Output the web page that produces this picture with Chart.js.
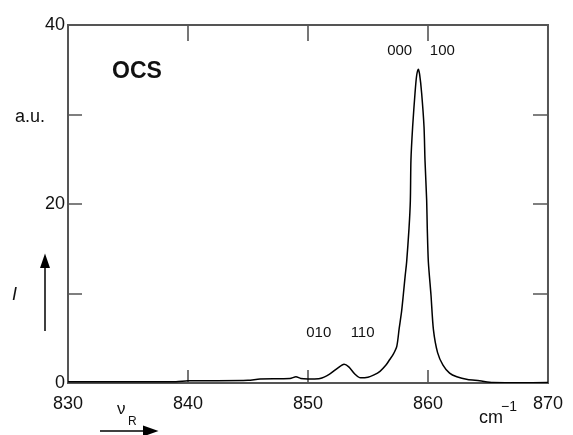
<!DOCTYPE html>
<html>
<head>
<meta charset="utf-8">
<script src="https://cdn.jsdelivr.net/npm/chart.js@4.4.1/dist/chart.umd.min.js"></script>
<style>
  html, body { margin: 0; padding: 0; background: #ffffff; }
  #wrap { width: 573px; height: 435px; position: relative; }
</style>
</head>
<body>
<div id="wrap"><canvas id="c" width="573" height="435"></canvas></div>
<script>
// ---- data ----
const wavenumbers = [
  830, 835, 839, 840, 842, 845, 846, 848.5, 849.0, 849.4, 850, 851, 851.8, 852.5, 853.0, 853.4, 853.9, 854.3,
  855.0, 855.5, 856.0, 856.5, 856.8, 857.1, 857.4, 857.6, 857.8, 857.94, 858.1, 858.22, 858.42, 858.53, 858.58,
  858.72, 858.92, 859.05, 859.19, 859.3, 859.47, 859.67, 859.75, 859.89, 859.94, 860.03, 860.25, 860.45, 860.8,
  861.25, 861.8, 862.4, 863.3, 864.3, 865.4, 870
];
const intensity = [
  0.15, 0.15, 0.15, 0.25, 0.25, 0.3, 0.45, 0.5, 0.7, 0.5, 0.45, 0.5, 1.0, 1.7, 2.1, 1.8, 1.0, 0.6,
  0.65, 0.9, 1.3, 2.0, 2.6, 3.2, 4.1, 6.1, 8.0, 9.8, 12.0, 13.5, 17.3, 20.4, 24.9,
  28.6, 32.4, 34.3, 35.05, 34.5, 32.4, 28.6, 24.9, 20.4, 17.3, 13.55, 9.83, 6.0, 3.4,
  2.0, 1.1, 0.7, 0.4, 0.26, 0.05, 0.05
];
const xTickLabels = [830, 840, 850, 860, 870];
const yTickLabels = [0, 20, 40];
const xMinorMarks = [840, 850, 860];
const yMinorMarks = [10, 20, 30];
const bandLabels = [
  { text: "000", x: 857.64, y: 37.15 },
  { text: "100", x: 861.2, y: 37.15 },
  { text: "010", x: 850.9, y: 5.6 },
  { text: "110", x: 854.55, y: 5.6 }
];
const moleculeLabel = "OCS";

const points = wavenumbers.map((w, i) => ({ x: w, y: intensity[i] }));
const FONT = "'Liberation Sans', Arial, Helvetica, sans-serif";
const AXIS = "#555555";

const decorPlugin = {
  id: 'decor',
  beforeDatasetsDraw(chart) {
    const { ctx, chartArea: a, scales } = chart;
    const xs = scales.x, ys = scales.y;
    ctx.save();
    ctx.strokeStyle = AXIS;
    ctx.lineWidth = 2;
    ctx.strokeRect(a.left, a.top, a.right - a.left, a.bottom - a.top);
    ctx.lineWidth = 1.6;
    xMinorMarks.forEach(v => {
      const px = Math.round(xs.getPixelForValue(v));
      ctx.beginPath();
      ctx.moveTo(px, a.bottom); ctx.lineTo(px, a.bottom - 13);
      ctx.moveTo(px, a.top); ctx.lineTo(px, a.top + 16);
      ctx.stroke();
    });
    yMinorMarks.forEach(v => {
      const py = Math.round(ys.getPixelForValue(v));
      ctx.beginPath();
      ctx.moveTo(a.left, py); ctx.lineTo(a.left + 14, py);
      ctx.moveTo(a.right, py); ctx.lineTo(a.right - 15, py);
      ctx.stroke();
    });
    ctx.restore();
  },
  afterDraw(chart) {
    const { ctx, chartArea: a, scales } = chart;
    const xs = scales.x, ys = scales.y;
    ctx.save();
    ctx.fillStyle = "#111111";
    ctx.textBaseline = "middle";
    // band labels
    ctx.font = "15px " + FONT;
    ctx.textAlign = "center";
    bandLabels.forEach(b => {
      ctx.fillText(b.text, xs.getPixelForValue(b.x), ys.getPixelForValue(b.y));
    });
    // molecule
    ctx.font = "bold 23px " + FONT;
    ctx.textAlign = "left";
    ctx.fillText(moleculeLabel, a.left + 44, a.top + 47);
    // a.u.
    ctx.font = "18px " + FONT;
    ctx.textAlign = "left";
    ctx.fillText("a.u.", 15, ys.getPixelForValue(30) + 3);
    // I
    ctx.font = "italic 18px " + FONT;
    ctx.fillText("I", 12, 295);
    // cm-1
    ctx.font = "18px " + FONT;
    ctx.fillText("cm", 479, 418);
    ctx.font = "14px " + FONT;
    ctx.fillText("\u22121", 501, 407);
    // nu_R
    ctx.font = "17px " + FONT;
    ctx.fillText("\u03BD", 117, 409);
    ctx.font = "12px " + FONT;
    ctx.fillText("R", 128, 422);
    // arrows
    ctx.strokeStyle = "#000";
    ctx.fillStyle = "#000";
    ctx.lineWidth = 1.5;
    ctx.beginPath(); ctx.moveTo(100, 431); ctx.lineTo(146, 431); ctx.stroke();
    ctx.beginPath(); ctx.moveTo(158.5, 431); ctx.lineTo(143, 425.5); ctx.lineTo(143, 436.5); ctx.closePath(); ctx.fill();
    ctx.beginPath(); ctx.moveTo(45, 331); ctx.lineTo(45, 266); ctx.stroke();
    ctx.beginPath(); ctx.moveTo(45, 253.5); ctx.lineTo(40, 268); ctx.lineTo(50, 268); ctx.closePath(); ctx.fill();
    ctx.restore();
  }
};

new Chart(document.getElementById('c'), {
  type: 'line',
  data: {
    datasets: [{
      data: points,
      borderColor: '#000000',
      borderWidth: 1.5,
      pointRadius: 0,
      tension: 0.25,
      fill: false
    }]
  },
  options: {
    responsive: false,
    animation: false,
    devicePixelRatio: 1,
    layout: { padding: { left: 0, right: 25, top: 25, bottom: 0 } },
    plugins: { legend: { display: false }, tooltip: { enabled: false } },
    scales: {
      x: {
        type: 'linear', min: 830, max: 870,
        border: { display: false },
        grid: { display: false, drawTicks: false },
        ticks: {
          stepSize: 10, padding: 10, color: '#111',
          font: { family: FONT, size: 18 },
          autoSkip: false, maxRotation: 0,
          callback: v => xTickLabels.includes(v) ? String(v) : ''
        },
        afterFit: s => { s.height = 52; }
      },
      y: {
        type: 'linear', min: 0, max: 40,
        border: { display: false },
        grid: { display: false, drawTicks: false },
        ticks: {
          stepSize: 10, padding: 3, color: '#111',
          font: { family: FONT, size: 18 },
          callback: v => yTickLabels.includes(v) ? String(v) : ''
        },
        afterFit: s => { s.width = 68; }
      }
    }
  },
  plugins: [decorPlugin]
});
</script>
</body>
</html>
